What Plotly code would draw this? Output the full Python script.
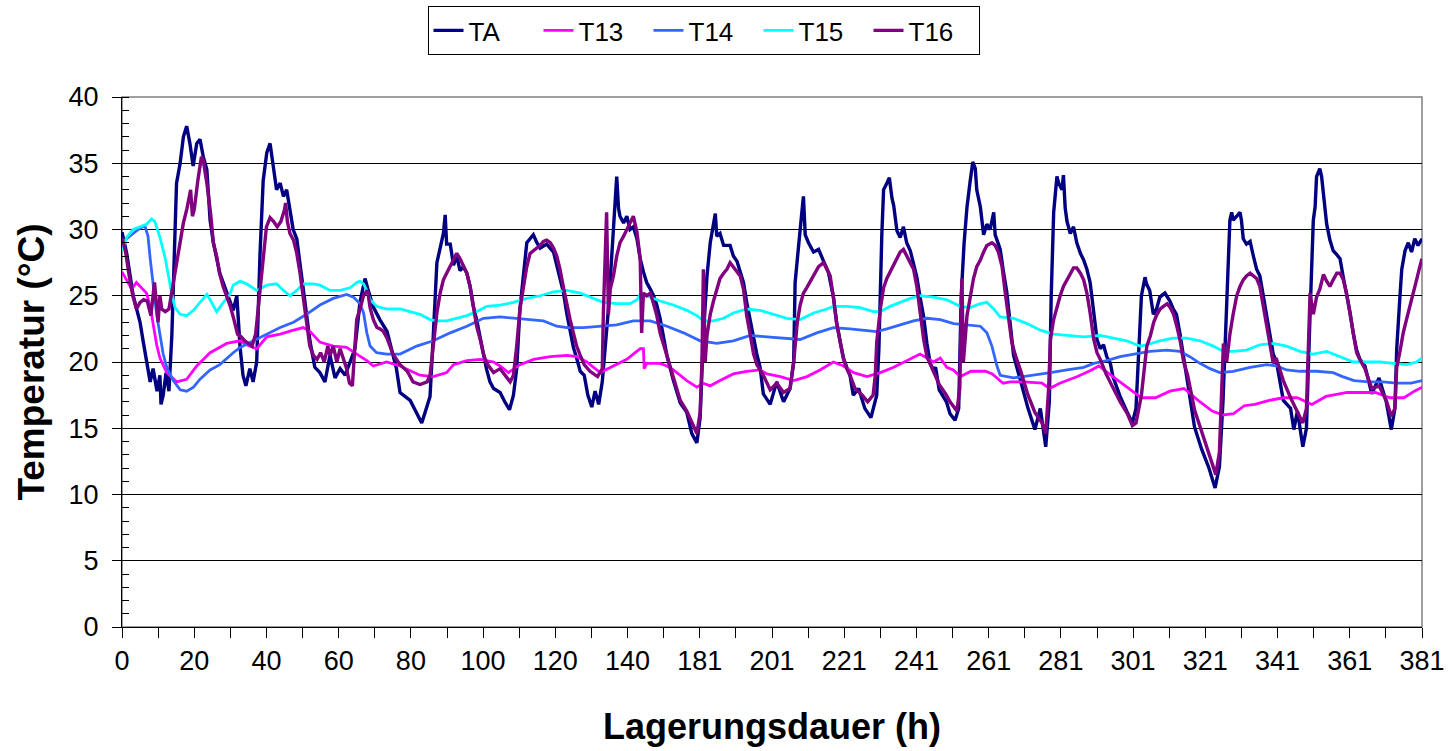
import plotly.graph_objects as go

# x positions are read on the (category-like) time axis: each labelled interval = 20 units
tick_labels = ["0", "20", "40", "60", "80", "100", "120", "140", "181", "201",
               "221", "241", "261", "281", "301", "321", "341", "361", "381"]

TA = [(0,29.8),(1.3,28.2),(3.1,25),(5,23),(5.9,21.5),(6.9,20),(7.8,18.5),(8.6,19.5),(9.7,17.8),(10.5,19),(10.8,16.8),(11.4,17.5),(12.2,19.2),(13,17.8),(13.8,22),(15.1,33.5),(16.1,35),(17,37),(17.9,37.8),(18.8,36.5),(19.7,34.8),(20.7,36.5),(21.6,36.8),(22.5,35.5),(23.5,34.5),(24.4,30.7),(25.3,29),(27.1,26.7),(29,25.2),(30.8,23.9),(31.8,25),(32.7,21.1),(33.5,19),(34.3,18.2),(35.4,19.5),(36.3,18.5),(37.3,20),(38.2,28),(39.1,33.7),(40.1,35.8),(41,36.5),(41.9,34.7),(42.8,33),(43.8,33.5),(44.7,32.5),(45.6,33),(46.5,31.3),(47.4,30),(48.4,29.3),(49.3,27.3),(50.2,25.5),(51.1,23.5),(52.1,21.5),(53.4,19.6),(54.8,19.2),(56.2,18.5),(57.6,20.5),(59,18.8),(60.4,19.5),(61.8,19),(63.1,20),(64.5,21),(65.9,24.5),(67.3,26.3),(68.1,25.5),(69.5,24.2),(71.4,23.2),(73.4,22.3),(76,19.5),(77,17.7),(79.8,17.1),(81.6,16.1),(83,15.4),(84.4,16.6),(85.3,17.4),(86.2,22),(87.2,27.5),(88.1,28.6),(89,29.7),(89.5,31.1),(89.9,28.9),(90.9,28.9),(91.8,27.3),(92.7,28),(93.6,26.9),(94.5,27.2),(95.5,26.7),(96.4,25.7),(97.3,24.2),(98.2,23.2),(99.2,21.7),(100.1,20.6),(101,19.4),(101.9,18.5),(102.9,18),(104.7,17.7),(106,17),(107.3,16.4),(108.4,17.5),(109.3,19.5),(110.2,24),(111.2,26.5),(112.1,29),(113,29.3),(113.9,29.6),(114.9,29),(115.8,28.6),(117.6,28.9),(119.5,28.3),(120.4,27.3),(121.3,26.3),(122.2,25.3),(123.2,23.6),(124.1,22.3),(125,21.1),(125.9,20.3),(126.9,19.3),(128,19),(129,17.5),(130.1,16.6),(131,17.8),(132,16.8),(133,18.5),(134.7,24),(136.1,30.2),(137,34),(137.5,31.6),(137.9,31),(138.9,30.5),(139.8,31),(140.7,30),(141.6,30.2),(142.6,29.3),(143.5,27.8),(144.4,26.8),(145.3,26),(146.3,25.5),(147.2,25),(148.1,24.3),(149,23.3),(150.9,20.5),(152.7,18.6),(154.6,16.9),(156.4,16.2),(157.8,14.6),(159.2,13.9),(160.1,15.8),(161,22),(162,26.5),(162.9,29),(164.3,31.2),(164.7,29.5),(165.6,29.7),(166.6,28.8),(168.4,28.8),(169.3,28),(170.3,27.6),(171.2,26.8),(172.1,26),(173,24.5),(174,23),(174.9,21.8),(175.8,20.6),(176.7,19.6),(177.6,17.6),(179.5,16.8),(181.3,18.5),(183.2,17),(185,18),(186,20),(186.4,26),(187.8,30),(188.7,32.5),(189.2,29.6),(190.1,29),(191.5,28.3),(192.9,28.5),(194.3,27.6),(195.6,26.8),(197,24.9),(197.9,23),(198.9,21.5),(199.8,20.3),(200.7,19.6),(201.6,19),(202.5,17.5),(204,18),(205.7,16.5),(207.4,15.8),(209,17.5),(209.6,21),(210.4,29.5),(210.9,33),(211.8,33.5),(212.5,33.9),(213.2,32.4),(213.7,31.8),(214.6,29.9),(215.5,29.4),(216.4,30.2),(217.3,29),(218.3,28.4),(219.2,27.4),(220.1,26.4),(221,24.9),(222,23.4),(222.9,21.4),(223.8,19.9),(224.7,19.4),(225.3,19.6),(226.3,17.9),(228.3,17),(229.3,16.1),(230.7,15.6),(231.7,16.5),(232.4,25),(233.2,29),(234,31.7),(234.9,33.7),(235.6,35.1),(236.3,34.6),(236.7,33),(237.7,31.7),(238.6,29.6),(239.5,30.4),(240.4,30),(241.4,31.3),(241.8,29.6),(242.7,28.9),(243.2,28.5),(244.1,26.8),(245,25.3),(246,22.8),(246.9,20.5),(247.8,19.6),(248.9,18.5),(250.9,16.5),(252.8,14.9),(254.3,16.5),(255.8,13.6),(256.8,17),(257.3,24.8),(258,31.3),(258.9,34),(259.4,33.5),(260.3,33),(260.7,34.1),(261.2,31.6),(261.7,30.6),(262.6,29.7),(263.5,30.2),(264.4,29),(265.4,28.2),(266.3,27.7),(267.2,27),(268.1,26),(269.1,23.5),(270,21.7),(270.9,21),(271.8,21.3),(272.7,20.4),(273.7,19.9),(274.4,18.9),(276.4,17.4),(278.4,16.2),(279.8,15.4),(280.8,16.5),(281.9,22),(282.3,25),(283.3,26.4),(283.7,25.9),(284.6,25.4),(285.6,23.6),(286.5,24),(287.4,24.9),(288.8,25.2),(290.2,24.6),(291.1,24),(292,23.6),(293,22.1),(293.9,20.5),(295.1,18.6),(297,15.1),(299,13.4),(301,12),(302.7,10.5),(303.9,12.1),(304.9,17.1),(305.9,25),(306.8,30.7),(307.3,31.3),(307.7,30.7),(308.7,31),(309.6,31.3),(310,30.7),(310.5,29.3),(311.4,28.9),(312.4,29.1),(313.3,28),(314.2,27),(315.1,26.5),(316,25),(317,23.5),(317.9,22),(318.8,20.6),(319.7,20),(321.6,17.1),(323.6,16.5),(324.5,14.9),(325.5,16.3),(327,13.6),(328,15),(328.5,20),(329,23.6),(329.9,30.7),(330.4,31.7),(330.8,34),(331.7,34.6),(332.2,34),(332.7,32.7),(333.6,30.4),(334.5,29.2),(335.4,28.4),(336.4,28.1),(337.3,27.8),(338.2,26.4),(339.1,25.2),(340.1,23.7),(341,22.1),(341.9,20.9),(342.8,20.2),(344.2,19.7),(346.1,17.6),(348.1,18.8),(350.1,17),(351.5,14.9),(352.5,16.5),(353,21),(353.9,25),(354.4,27),(355.3,28.4),(356.2,29),(357.1,28.3),(358,29.3),(358.9,28.8),(360,29.3)]

T13 = [(0,26.8),(1.3,26.2),(2.7,25.5),(4,26),(5,25.7),(6.8,25.2),(7.8,24.2),(8.7,22.8),(9.6,21.3),(10.5,20.3),(12.4,19.2),(15.1,18.5),(17.9,18.7),(20.7,19.7),(24.4,20.7),(29,21.4),(32.7,21.6),(34.5,21.3),(37.3,21),(40.1,21.9),(43.8,22.1),(47.5,22.4),(50.2,22.6),(52.1,22.3),(54.8,21.5),(58.5,21.2),(62.2,21.1),(65,20.6),(67.8,20.1),(69.6,19.7),(73.3,20),(77,19.7),(82.5,19),(86.2,18.9),(89.9,19.2),(91.8,19.8),(95.5,20.1),(99.2,20.2),(102.9,20),(104.7,19.7),(107,19.2),(110.2,19.8),(114,20.2),(118.6,20.4),(123.2,20.5),(126,20.4),(128.7,20),(132.4,19.2),(136.1,19.7),(139.8,20.2),(141.6,20.6),(143.5,21),(144.4,21),(144.6,19.5),(145.3,19.9),(149,19.9),(150.9,19.7),(152.7,19.4),(156.4,18.6),(159.2,18.1),(161,18.4),(162.9,18.2),(165.6,18.6),(169.3,19.1),(173,19.3),(176.7,19.4),(178.6,19.1),(182.3,18.9),(186,18.6),(189.7,18.9),(193.3,19.4),(197,20),(199.8,19.7),(202.6,19.2),(206.3,18.9),(210,19.2),(213.7,19.6),(217.3,20.1),(221,20.6),(222.9,20.3),(224.7,20),(226.6,20.3),(228.4,19.6),(230.2,19.4),(232.2,18.9),(235.1,19.3),(239.1,19.3),(241,19.1),(244,18.4),(246,18.5),(249.9,18.5),(254.8,18.4),(256.8,18),(259.7,18.4),(264.6,18.9),(268.5,19.4),(270.5,19.7),(274.4,18.9),(278.4,18.1),(282.3,17.3),(286.2,17.3),(290.2,17.8),(294.1,18),(298,17.1),(301.9,16.3),(304.9,16),(307.8,16.1),(310.8,16.7),(313.7,16.8),(317.7,17.1),(321.6,17.3),(325.5,17.3),(329.5,16.8),(333.4,17.4),(339.3,17.7),(343.2,17.7),(347.1,17.7),(351.1,17.3),(355,17.3),(357.9,17.8),(360,18.1)]

T14 = [(0,28.9),(1.3,29.3),(3.1,29.7),(5,30.1),(6.3,30.3),(7.2,29.5),(7.8,27.8),(8.7,25.5),(9.6,23.6),(10.5,22.1),(11.4,20.6),(12.4,19.6),(14.2,18.6),(16.1,17.9),(17.9,17.8),(19.8,18.1),(21.6,18.7),(24.4,19.4),(27.1,19.8),(30.8,20.7),(32.7,21.1),(36.4,21.6),(40.1,22.1),(43.8,22.6),(47.5,23),(51.1,23.6),(54.8,24.3),(58.5,24.8),(62.2,25.1),(64.1,24.9),(65.9,24.4),(66.9,23.7),(67.8,22.2),(68.7,21.2),(70.5,20.7),(73.3,20.6),(77,20.6),(81.6,21.2),(86.2,21.6),(90.9,22.2),(95.5,22.7),(100.1,23.3),(104.7,23.4),(109.3,23.3),(112.1,23.2),(116.7,23.1),(120.4,22.7),(123.2,22.6),(127.8,22.6),(132.4,22.7),(137,22.8),(141.6,23.1),(146.3,23.1),(150.9,22.7),(155.5,22.2),(160.1,21.6),(164.7,21.4),(169.3,21.6),(174,22),(178.6,21.9),(183.2,21.8),(187.8,21.7),(192.4,22.2),(197,22.6),(201.6,22.5),(206.3,22.4),(209,22.3),(211.8,22.5),(215.5,22.8),(219.2,23.1),(222.9,23.3),(226.6,23.2),(230.3,22.9),(234,22.8),(237.7,22.7),(239.5,22.2),(240.9,21.2),(242.3,19.7),(243.2,19),(246.9,18.8),(252.4,19),(257.1,19.2),(261.7,19.4),(266.3,19.6),(269.1,19.9),(272.7,20.1),(276.4,20.4),(280,20.6),(284.6,20.8),(289.3,20.9),(293,20.8),(295.7,20.4),(298.5,19.9),(301.3,19.5),(304,19.2),(307.7,19.3),(312.4,19.6),(317,19.8),(319.7,19.7),(322.5,19.4),(326.2,19.3),(330.8,19.3),(335.4,19.2),(338,18.9),(341.2,18.6),(345.2,18.5),(349.1,18.5),(353,18.4),(357,18.4),(360,18.6)]

T15 = [(0,28.4),(1.3,29.4),(3.1,30),(5,30.2),(6.8,30.4),(8.2,30.8),(9.1,30.6),(10.5,29.4),(11.9,27.9),(12.8,26.6),(13.8,25.1),(14.7,24.1),(16.1,23.6),(17.9,23.5),(19.8,23.9),(21.6,24.5),(23.5,25.1),(24.4,24.7),(26.2,23.8),(28.1,24.5),(29.9,25.1),(30.8,25.8),(32.7,26.1),(34.5,25.9),(37.3,25.4),(40.1,25.8),(42.8,25.9),(44.7,25.4),(46.5,25),(48.4,25.4),(50.2,25.9),(53,25.9),(54.8,25.8),(57.6,25.4),(60.4,25.4),(63.2,25.6),(65,26),(65.9,26.1),(66.9,25.9),(67.8,25.4),(68.7,24.7),(70.5,24.2),(73.3,24),(77,24),(79.8,23.8),(82.5,23.6),(85.3,23.2),(87.2,23.1),(89.9,23.1),(92.7,23.3),(95.5,23.5),(98.2,23.8),(101,24.2),(104.7,24.3),(108.4,24.5),(112.1,24.8),(115.8,25),(119.5,25.3),(123.2,25.4),(126.9,25.2),(130.6,24.8),(133.3,24.5),(137,24.4),(140.7,24.4),(142.6,24.7),(143.5,25.1),(145.3,25),(149,24.6),(152.7,24.3),(156.4,23.9),(159.2,23.5),(161,23.1),(163.8,23.1),(166.6,23.3),(169.3,23.7),(173,24),(176.7,23.9),(180.4,23.6),(184.1,23.3),(187.8,23.2),(191.5,23.7),(195.2,24),(197,24.2),(200.7,24.2),(204.4,24.1),(208.1,23.8),(210,23.8),(212.7,24.2),(215.5,24.5),(218.3,24.8),(221,25),(224.7,24.9),(228.4,24.7),(232.1,24.2),(234.9,24.1),(237.7,24.4),(239.5,24.5),(241.4,24),(243.2,23.4),(246.9,23.3),(250.6,22.9),(254.3,22.4),(258,22.1),(261.7,22),(266.3,21.9),(270.9,22),(274.5,21.8),(278.2,21.6),(281.9,21.2),(283.7,21.3),(287.4,21.6),(291.1,21.8),(294.8,21.8),(298.5,21.6),(302.2,21.2),(305,20.8),(307.7,20.8),(311.4,20.9),(315.1,21.3),(318.8,21.4),(322.5,21.2),(326.2,20.8),(329.9,20.6),(333.6,20.8),(335.4,20.6),(338.2,20.3),(341,20),(344.7,20),(348.4,20),(352.1,19.9),(355.7,19.8),(358.5,20),(360,20.3)]

T16 = [(0,29.4),(1,28.3),(2,26.5),(3,25),(4,24),(5,24.5),(6,24.7),(7,24.6),(8,23.5),(9,26),(10,23),(10.5,25),(11,24),(12,23.8),(13,24),(14,25.6),(15,27),(16,28.6),(17,30.5),(18,31.6),(19,33),(19.5,31),(20,31.5),(21,33.7),(22,35.5),(22.5,35.2),(23.5,33.5),(24.5,31.3),(25.3,29),(26.2,28),(27,26.7),(28,25.7),(29,24.9),(30,24.2),(31,23.2),(32,22.1),(33,21.9),(34,21.6),(35,21.4),(36,21.2),(37,22.1),(38,25),(39,27.6),(40,30.2),(41,30.9),(42,30.6),(43,30.2),(44,30.6),(45,31.5),(45.3,32),(45.8,30.6),(46.5,29.7),(47.5,29.2),(48.4,28.2),(49.3,26.7),(50.2,24.9),(51.2,22.9),(52,21.2),(53,20.5),(54,20.2),(55,20.7),(56,20),(57,21.2),(57.6,20.5),(58.5,21.2),(59.5,20),(60.4,21),(61.3,20.3),(62.2,19.5),(63,18.4),(63.8,18.2),(64.5,21.2),(65,23.2),(66,24.1),(67,25.1),(68,25.4),(68.7,24.1),(69.6,23.2),(70.6,22.6),(71.5,22.5),(72.4,22.3),(73.4,21.8),(75,20.6),(77,19.8),(79,19.3),(80.6,18.5),(82.5,18.3),(84.5,18.5),(85.3,19),(86.2,21.2),(87.2,23.7),(88.1,25.2),(89,26.2),(89.9,26.7),(90.9,27.2),(91.8,27.7),(92.7,28.2),(93.6,27.8),(94.5,27.3),(95.5,26.7),(96.4,25.7),(97.3,24.2),(98.2,22.7),(99.2,21.7),(100.1,20.6),(101,19.9),(102.9,19.2),(104.7,19.5),(106.5,18.8),(107.5,18.5),(108.4,19),(109.3,21.2),(110.2,24),(111.2,25.7),(112.1,27.2),(113,28.2),(113.9,28.4),(114.9,28.6),(115.8,28.8),(116.7,29.1),(117.6,29.2),(118.6,29),(119.5,28.6),(120.4,28),(121.3,27),(122.2,25.7),(123.2,24.2),(124.1,23.2),(125,22.2),(125.9,21.2),(126.9,20.5),(128,19.8),(129.6,19.3),(131.7,18.9),(133,19.5),(133.3,23.7),(134.2,31.3),(134.7,23.6),(135.2,25.5),(136.1,26.5),(137,28),(137.9,29),(138.9,29.5),(139.8,30),(140.7,30.5),(141.6,31),(142.6,29.8),(143.5,27.8),(143.9,22.2),(144.4,25.2),(145.3,25),(146.3,25.2),(147.2,24.4),(148.1,23.5),(149,22.2),(150.9,20.5),(152.7,19),(154.6,17.1),(156.4,16.3),(157.8,15.4),(159.2,14.6),(160.1,16.2),(160.6,20),(161,27),(161.5,20),(162,22),(162.9,23.6),(163.8,24.6),(164.7,25.5),(165.6,26.3),(166.6,26.7),(167.5,27),(168.4,27.5),(169.3,27.2),(170.3,26.8),(171.2,26.5),(172.1,25.5),(173,23.5),(174,22),(174.9,20.6),(175.8,19.8),(177.6,19),(179.5,17.9),(181.3,18.4),(183.2,17.7),(185,18),(186,20),(187,23),(187.8,24.3),(188.7,25.2),(189.6,25.6),(191.5,26.5),(192.9,27.2),(194.3,27.5),(195.2,27),(196.1,26.5),(197,24.9),(197.9,22.9),(198.9,21.5),(199.8,20.2),(200.7,19.5),(201.6,19),(203,18),(205,17.5),(206.5,17),(208,17.5),(208.6,19),(209,21.5),(210,24),(210.9,25.6),(211.8,26.3),(212.7,26.8),(213.7,27.3),(214.6,27.8),(215.5,28.3),(216.4,28.5),(217.3,28),(218.3,27.5),(219.2,27),(220.1,25.7),(221,23.7),(222,21.7),(222.9,20.4),(224.7,19.3),(226.3,18.3),(228.3,17.5),(229.3,17),(231.2,16.3),(232,18),(232.6,26.3),(233,20),(234,23.5),(234.9,25),(235.8,26.3),(236.7,27.2),(237.7,27.7),(238.6,28.3),(239.5,28.8),(240.9,29),(241.8,28.8),(242.7,28.3),(243.7,27.2),(244.6,25.2),(245.5,23.2),(246.4,21.5),(247.4,20.5),(248.9,19.3),(250.9,17.5),(252.8,16.2),(254.8,15.4),(255.8,14.6),(256.6,18),(257.1,21.7),(258,23.2),(258.9,24.2),(259.8,25),(260.7,25.7),(261.7,26.2),(262.6,26.7),(263.5,27.1),(264.4,27.1),(265.4,26.7),(266.3,26.2),(267.2,25.2),(268.1,23.7),(269.1,21.7),(270,20.7),(270.9,20.2),(272.5,19.1),(274.4,18.1),(276.4,17),(278.4,16.1),(279.8,15.2),(280.8,15.4),(282.3,17.5),(283.3,20),(283.8,21.2),(284.8,22),(285.7,23),(286.6,23.6),(287.5,24),(288.4,24.2),(289.4,24.4),(290.3,24.1),(291.2,23.6),(292.1,22.7),(293.1,21.5),(294,20),(295.1,19),(297,16.4),(299,14.7),(301,13.1),(302.9,11.5),(303.9,13.2),(304.4,17),(305,21.4),(305.9,20),(306.8,22.1),(307.7,23.6),(308.7,25),(309.6,25.7),(310.5,26.2),(311.4,26.5),(312.4,26.7),(313.3,26.5),(314.2,26.3),(315.1,25.7),(316,24.2),(317,22.7),(317.9,21.2),(318.8,19.9),(319.6,20.3),(321.6,18.6),(323.6,17.3),(325.5,16.3),(327,15.4),(328,16.5),(328.5,21.6),(329,25.2),(329.9,23.6),(330.8,24.9),(331.7,25.5),(332.7,26.6),(333.6,26.1),(334.5,25.7),(335.4,26.2),(336.4,26.7),(337.3,26.7),(338.2,26.2),(339.1,25.2),(340.1,23.7),(341,22.2),(341.9,20.7),(342.8,20.2),(344.2,19.5),(346.1,18),(348.1,18.2),(350.1,17.1),(351.5,15.9),(352.5,16.5),(353,19.6),(353.9,20.8),(354.8,22.2),(355.7,23.2),(356.7,24.2),(357.6,25.2),(358.5,26.2),(359.4,27.2),(360,27.8)]

series = [
    ("TA", TA, "#000080", 3.4),
    ("T13", T13, "#FF00FF", 2.8),
    ("T14", T14, "#3366FF", 2.8),
    ("T15", T15, "#00FFFF", 2.8),
    ("T16", T16, "#800080", 3.4),
]

FONT = "Liberation Sans, Arial, sans-serif"
fig = go.Figure()
for name, pts, color, w in series:
    fig.add_trace(go.Scatter(
        x=[p[0] for p in pts], y=[p[1] for p in pts], name=name, mode="lines",
        line=dict(color=color, width=w)))

tick_pos = [20 * i for i in range(len(tick_labels))]
minor_pos = [p + 10 for p in tick_pos[:-1]]

fig.update_layout(
    width=1456, height=751,
    margin=dict(l=122, r=34, t=97, b=124, autoexpand=False),
    paper_bgcolor="white", plot_bgcolor="white",
    font=dict(family=FONT, color="black", size=27),
    showlegend=True,
    legend=dict(orientation="h", x=0.235, y=1.1717, xanchor="left", yanchor="top",
                bordercolor="black", borderwidth=1, font=dict(size=26),
                entrywidth=65, entrywidthmode="pixels",
                itemwidth=30, tracegroupgap=0),
    xaxis=dict(range=[0, 360], tickmode="array", tickvals=tick_pos, ticktext=tick_labels,
               showgrid=False, zeroline=False, showline=True, linecolor="black", linewidth=1,
               ticks="outside", ticklen=10, tickcolor="black",
               minor=dict(tickvals=minor_pos, ticks="outside", ticklen=10, tickcolor="black"),
               tickfont=dict(size=27),
               title=dict(text="<b>Lagerungsdauer (h)</b>", font=dict(size=36), standoff=38)),
    yaxis=dict(range=[0, 40], dtick=5, tick0=0, showgrid=True, gridcolor="black", gridwidth=1,
               zeroline=False, showline=True, linecolor="black", linewidth=1,
               ticks="outside", ticklen=9, tickcolor="black", ticklabelstandoff=8,
               minor=dict(dtick=1, ticks="inside", ticklen=7, tickcolor="black", showgrid=False),
               tickfont=dict(size=27),
               title=dict(text="<b>Temperatur (°C)</b>", font=dict(size=37), standoff=12)),
    shapes=[dict(type="rect", xref="x domain", yref="y domain", x0=0, x1=1, y0=0, y1=1,
                 line=dict(color="#808080", width=1.5), layer="below")],
)

fig.write_html("out.html")
